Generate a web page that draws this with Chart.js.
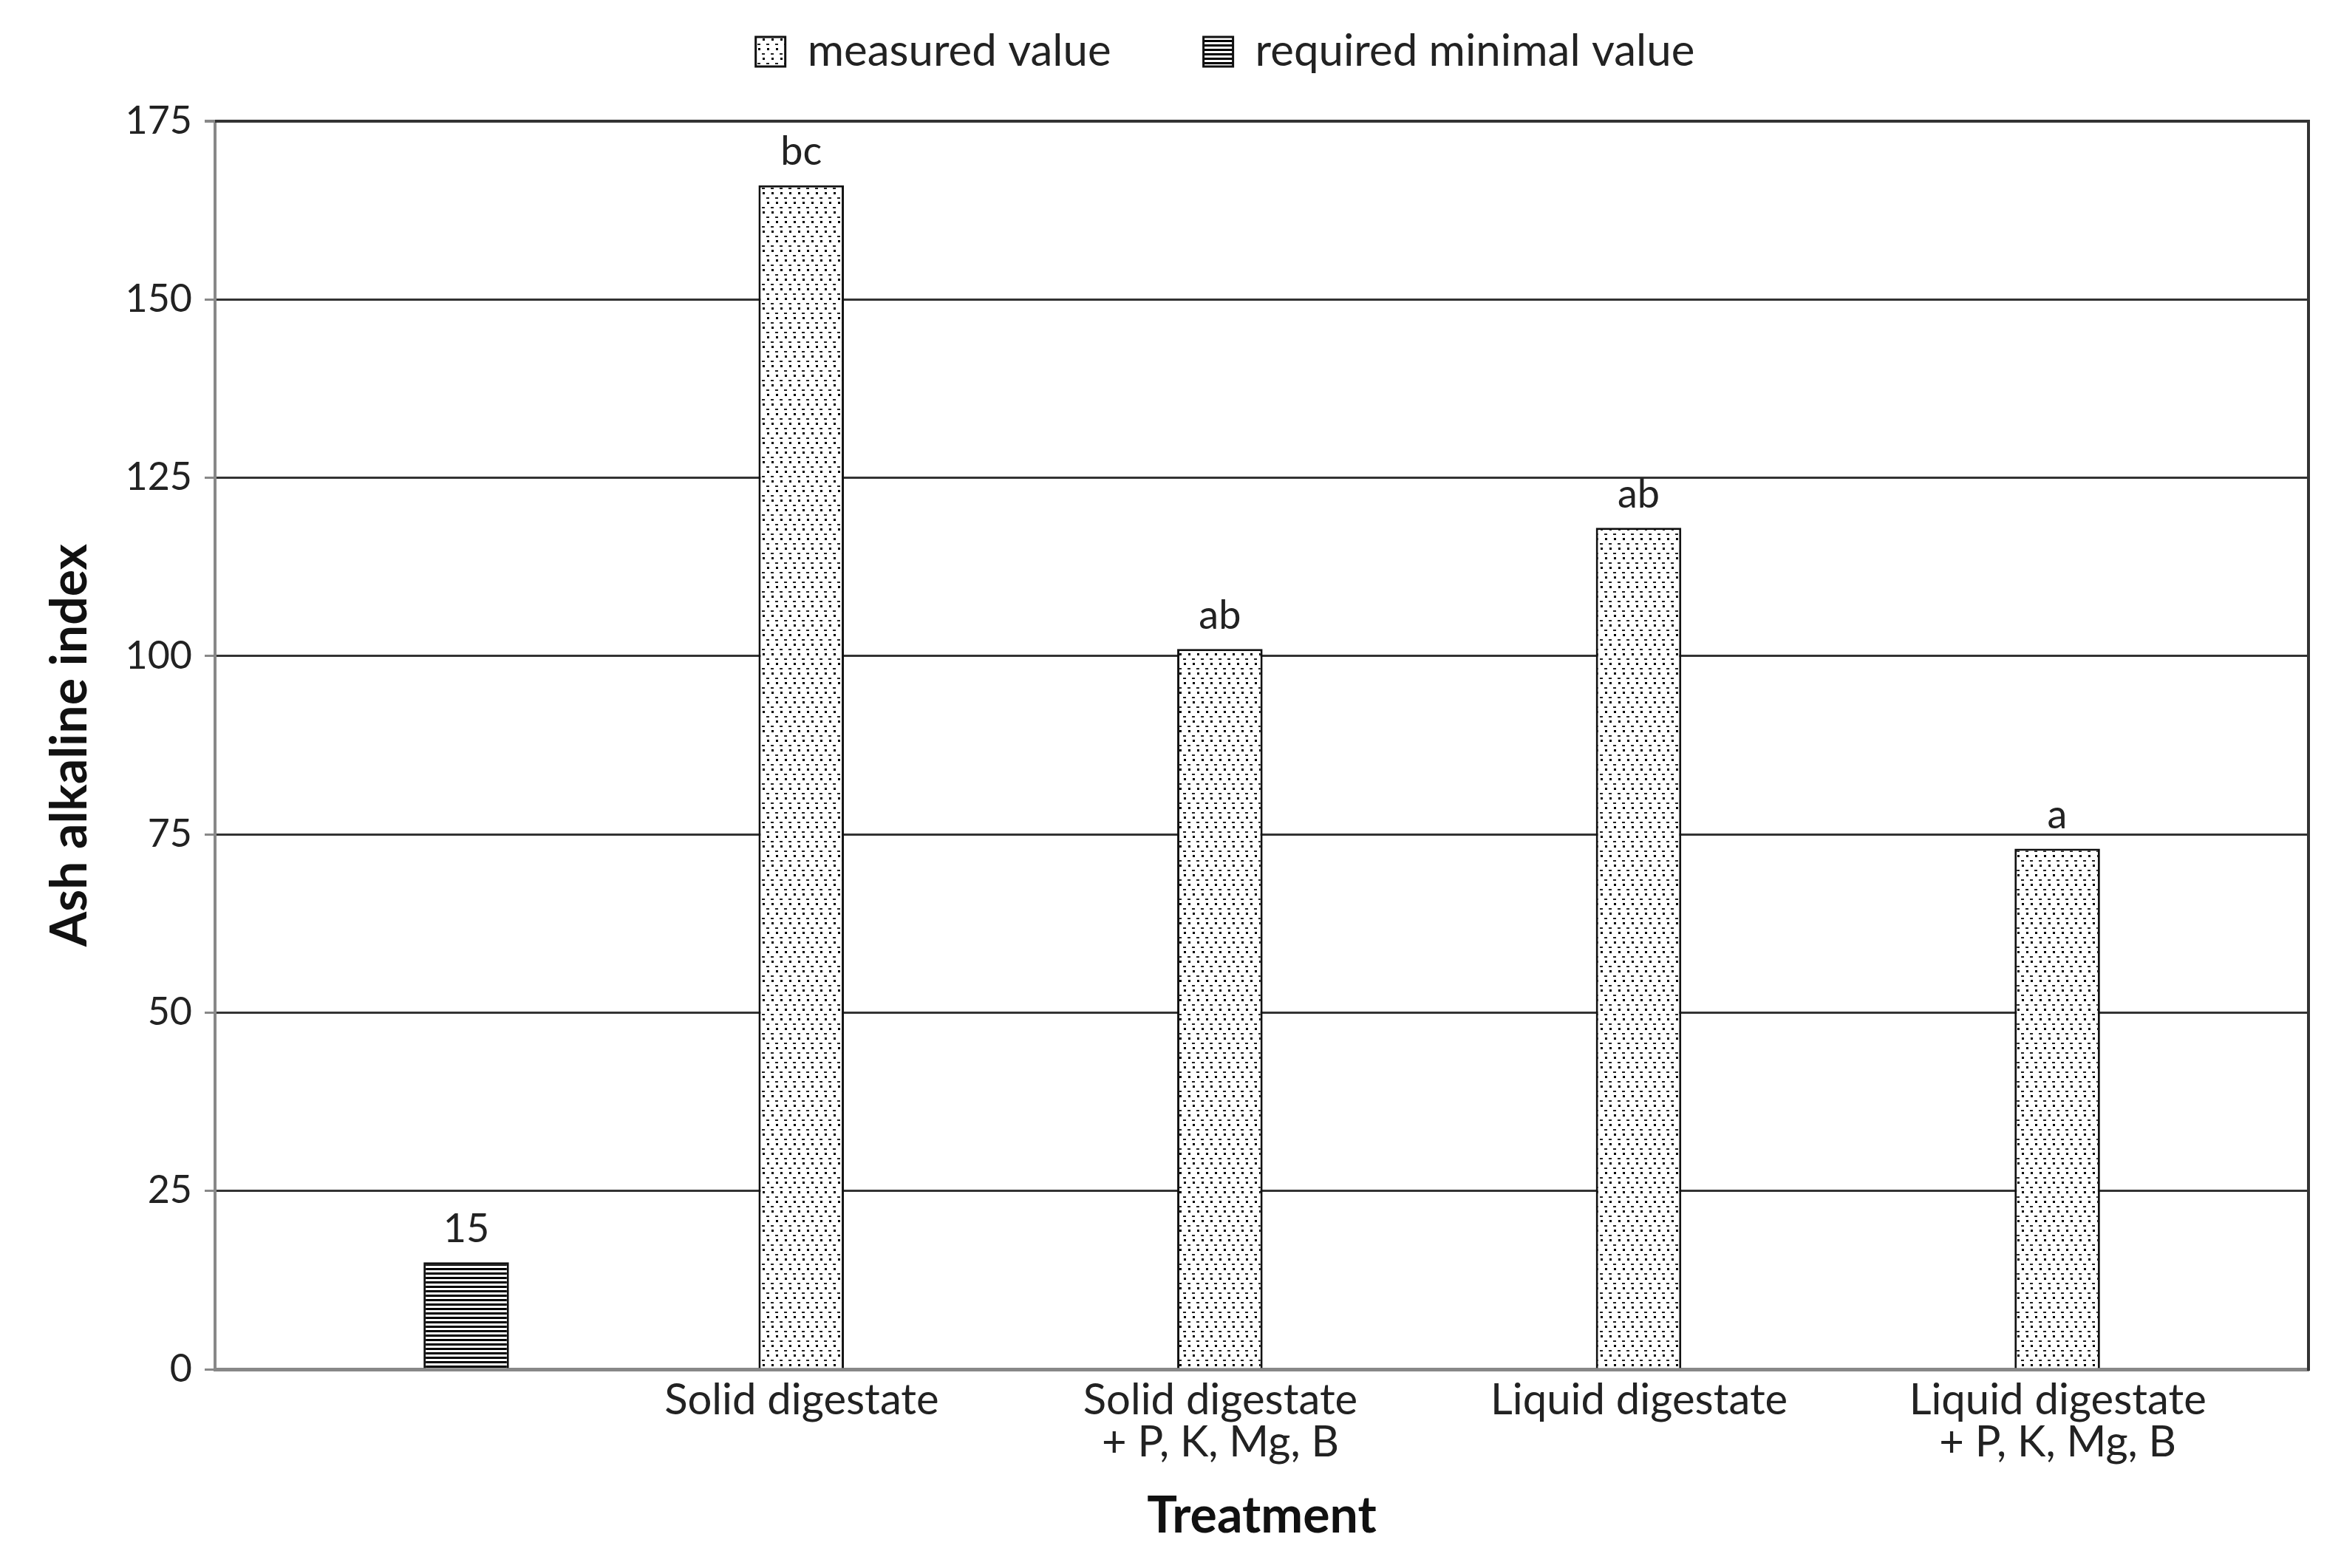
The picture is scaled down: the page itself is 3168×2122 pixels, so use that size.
<!DOCTYPE html>
<html>
<head>
<meta charset="utf-8">
<script src="https://cdn.jsdelivr.net/npm/chart.js@4.4.1/dist/chart.umd.min.js"></script>
<style>
  html, body { margin: 0; padding: 0; background: #ffffff; }
  #wrap { width: 3168px; height: 2122px; }
</style>
</head>
<body>
<div id="wrap"><canvas id="c" width="3168" height="2122"></canvas></div>
<script>
// ---------- data ----------
const categories = ['', ['Solid digestate'], ['Solid digestate', '+ P, K, Mg, B'], ['Liquid digestate'], ['Liquid digestate', '+ P, K, Mg, B']];
const measuredValues = [null, 166, 101, 118, 73];
const measuredLetters = [null, 'bc', 'ab', 'ab', 'a'];
const requiredValues = [15, null, null, null, null];
const requiredLabels = ['15', null, null, null, null];
const yTicks = [0, 25, 50, 75, 100, 125, 150, 175];
const seriesNames = ['measured value', 'required minimal value'];
const axisTitles = { x: 'Treatment', y: 'Ash alkaline index' };

// ---------- patterns ----------
function dotPattern() {
  const c = document.createElement('canvas');
  c.width = 12; c.height = 26;
  const g = c.getContext('2d');
  g.fillStyle = '#ffffff'; g.fillRect(0, 0, 12, 26);
  g.fillStyle = '#000000';
  g.fillRect(0, 0, 3, 3);
  g.fillRect(6, 13, 3, 3);
  g.fillStyle = '#222222';
  g.fillRect(5, 7, 4, 2);
  g.fillRect(11, 20, 1, 2); g.fillRect(0, 20, 3, 2);
  return g.createPattern(c, 'repeat');
}
function stripePattern() {
  const c = document.createElement('canvas');
  c.width = 8; c.height = 6;
  const g = c.getContext('2d');
  g.fillStyle = '#ffffff'; g.fillRect(0, 0, 8, 6);
  g.fillStyle = '#000000'; g.fillRect(0, 0, 8, 3);
  return g.createPattern(c, 'repeat');
}
const dots = dotPattern();
const stripes = stripePattern();

const FONT = 'Lato, "Open Sans", sans-serif';

const barLabels = {
  id: 'barLabels',
  afterDatasetsDraw(chart) {
    const ctx = chart.ctx;
    ctx.save();
    ctx.font = '54px ' + FONT;
    ctx.fillStyle = '#222222';
    ctx.textAlign = 'center';
    ctx.textBaseline = 'bottom';
    const sets = [measuredLetters, requiredLabels];
    sets.forEach((labels, di) => {
      const meta = chart.getDatasetMeta(di);
      meta.data.forEach((bar, i) => {
        if (labels[i] == null) return;
        ctx.fillText(labels[i], bar.x, bar.y - 18);
      });
    });
    ctx.restore();
  }
};

const frame = {
  id: 'frame',
  afterDraw(chart) {
    const a = chart.chartArea, ctx = chart.ctx;
    ctx.save();
    ctx.strokeStyle = '#333333';
    ctx.lineWidth = 4;
    ctx.beginPath();
    ctx.moveTo(a.left, a.top);
    ctx.lineTo(a.right, a.top);
    ctx.lineTo(a.right, a.bottom + 2);
    ctx.stroke();
    ctx.restore();
  }
};

// let the y axis use the full left margin for its labels and title
const yMargin = {
  id: 'yMargin',
  afterLayout(chart) { chart.scales.y.left = 0; }
};

new Chart(document.getElementById('c'), {
  type: 'bar',
  data: {
    labels: categories,
    datasets: [
      {
        label: seriesNames[0],
        data: measuredValues,
        backgroundColor: dots,
        borderColor: '#111111',
        borderWidth: 3,
        categoryPercentage: 0.4,
        barPercentage: 1.02
      },
      {
        label: seriesNames[1],
        data: requiredValues,
        backgroundColor: stripes,
        borderColor: '#111111',
        borderWidth: 3,
        categoryPercentage: 0.4,
        barPercentage: 1.02
      }
    ]
  },
  options: {
    responsive: false,
    animation: false,
    devicePixelRatio: 1,
    layout: { padding: { left: 192, right: 44, top: -85, bottom: 0 } },
    plugins: {
      legend: {
        display: true,
        position: 'top',
        labels: {
          font: { family: FONT, size: 60 },
          color: '#222222',
          boxWidth: 40,
          boxHeight: 40,
          padding: 125
        }
      },
      subtitle: {
        display: true,
        text: '',
        position: 'top',
        weight: 500,
        font: { size: 10, lineHeight: 1 },
        padding: { top: 44, bottom: 0 }
      },
      tooltip: { enabled: false }
    },
    scales: {
      x: {
        grid: { display: false, drawTicks: false },
        border: { display: true, color: '#888888', width: 5 },
        ticks: {
          color: '#222222',
          font: { family: FONT, size: 58, lineHeight: 0.98 },
          padding: 14,
          labelOffset: -56,
          maxRotation: 0,
          autoSkip: false
        },
        title: {
          display: true,
          text: axisTitles.x,
          color: '#111111',
          font: { family: FONT, size: 68, weight: 'bold' },
          padding: { top: 0, bottom: 29 }
        },
        afterFit(scale) { scale.height = 269; }
      },
      y: {
        min: 0,
        max: 175,
        afterBuildTicks(scale) { scale.ticks = yTicks.map(v => ({ value: v })); },
        grid: {
          color: (c) => (c.tick && c.tick.value === 0) ? 'rgba(0,0,0,0)' : '#333333',
          lineWidth: (c) => (c.tick && c.tick.value === 175) ? 4 : 3,
          tickColor: '#888888',
          tickLength: 14,
          drawTicks: true
        },
        border: { display: true, color: '#888888', width: 4 },
        ticks: {
          color: '#222222',
          font: { family: FONT, size: 52 },
          padding: 17
        },
        title: {
          display: true,
          text: axisTitles.y,
          color: '#111111',
          font: { family: FONT, size: 68, weight: 'bold' },
          padding: { top: 54, bottom: 0 }
        },
        afterFit(scale) { scale.width = 99; }
      }
    }
  },
  plugins: [barLabels, frame, yMargin]
});
</script>
</body>
</html>
